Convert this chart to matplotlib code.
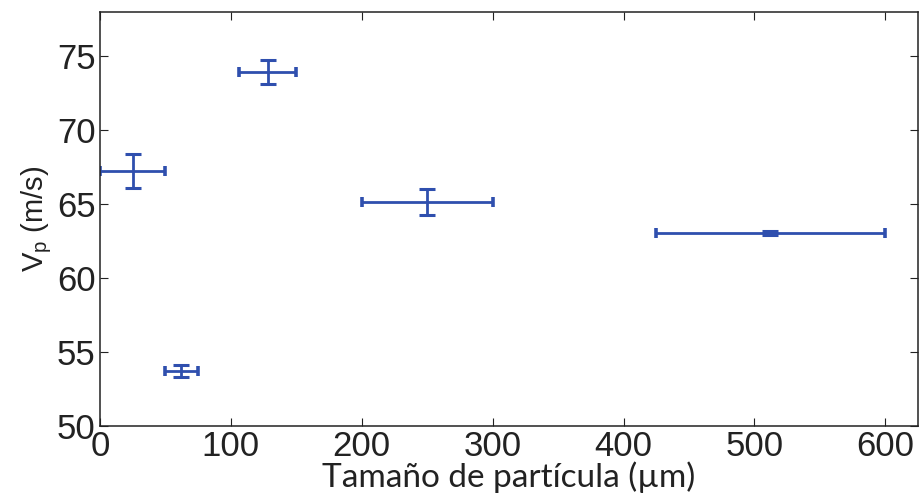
import numpy as np
import matplotlib.pyplot as plt

# particle size (um) with size range, and particle velocity (m/s) with error
size = np.array([25, 62, 128, 250, 512])
size_lo = np.array([25, 12, 22, 50, 87])
size_hi = np.array([25, 13, 22, 50, 88])
vp = np.array([67.25, 53.7, 73.95, 65.15, 63.05])
vp_err = np.array([1.17, 0.4, 0.82, 0.9, 0.15])

xticks = [0, 100, 200, 300, 400, 500, 600]
yticks = [50, 55, 60, 65, 70, 75]

color = '#2f4fae'

plt.rcParams['font.family'] = ['Liberation Sans', 'DejaVu Sans']
fig = plt.figure(figsize=(9.19, 4.94), dpi=100)
ax = fig.add_axes([0.1088, 0.1377, 0.8901, 0.838])

# vertical bars (velocity error)
ax.errorbar(size, vp, yerr=vp_err, fmt='none', ecolor=color,
            elinewidth=2.0, capsize=5.8, capthick=2.2)
# horizontal bars (size range)
ax.errorbar(size, vp, xerr=[size_lo, size_hi], fmt='none', ecolor=color,
            elinewidth=2.0, capsize=3.4, capthick=2.6)

ax.set_xlim(0, 625)
ax.set_ylim(50, 78)
ax.set_xticks(xticks)
ax.set_yticks(yticks)
ax.tick_params(direction='in', length=6, width=0.8, top=True, right=True,
               labelsize=25, colors='#222222', pad=3)
for s in ax.spines.values():
    s.set_linewidth(1.1)
    s.set_color('#222222')

ax.set_xlabel('Tamaño de partícula (µm)', family=['Lato', 'DejaVu Sans'],
              fontsize=24, color='#222222', labelpad=-1)
ax.set_ylabel(r'V$_\mathregular{p}$ (m/s)', fontsize=21, color='#222222',
              labelpad=2)

fig.savefig('out.png', dpi=100)
